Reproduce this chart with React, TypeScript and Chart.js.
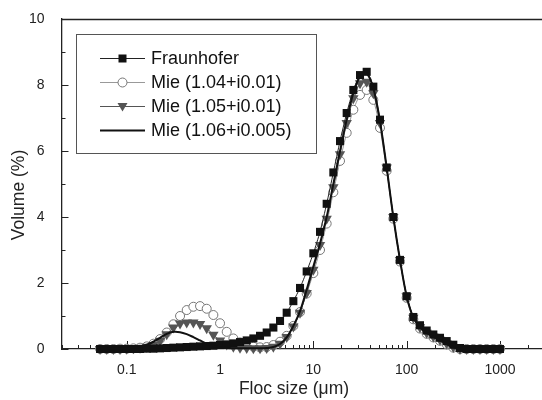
import React, { useEffect, useRef } from "react";
import { Chart, registerables } from "chart.js";
Chart.register(...registerables);

// Floc size classes (µm)
const sizes = [
  0.0518, 0.0611, 0.072, 0.0848, 0.1, 0.1179, 0.1389, 0.1638, 0.1931, 0.2276,
  0.2683, 0.3162, 0.3728, 0.4394, 0.5179, 0.6105, 0.7197, 0.8483, 1, 1.179,
  1.389, 1.638, 1.931, 2.276, 2.683, 3.162, 3.728, 4.394, 5.179, 6.105,
  7.197, 8.483, 10, 11.79, 13.89, 16.38, 19.31, 22.76, 26.83, 31.62,
  37.28, 43.94, 51.79, 61.05, 71.97, 84.83, 100, 117.9, 138.9, 163.8,
  193.1, 227.6, 268.3, 316.2, 372.8, 439.4, 517.9, 610.5, 719.7, 848.3,
  1000,
];

const fraunhofer = [
  0, 0, 0, 0, 0, 0, 0, 0.01, 0.01, 0.02,
  0.03, 0.04, 0.05, 0.06, 0.07, 0.08, 0.09, 0.1, 0.12, 0.14,
  0.17, 0.21, 0.26, 0.32, 0.4, 0.5, 0.65, 0.85, 1.1, 1.45,
  1.85, 2.35, 2.9, 3.55, 4.4, 5.35, 6.3, 7.15, 7.85, 8.3,
  8.4, 7.95, 6.95, 5.5, 4.0, 2.7, 1.6, 0.97, 0.72, 0.56,
  0.44, 0.34, 0.24, 0.13, 0.03, 0, 0, 0, 0, 0,
  0,
];

const mie104 = [
  0, 0, 0, 0.01, 0.01, 0.02, 0.04, 0.08, 0.16, 0.3,
  0.5, 0.75, 1.0, 1.18, 1.28, 1.3, 1.22, 1.03, 0.78, 0.52,
  0.32, 0.2, 0.12, 0.07, 0.05, 0.06, 0.12, 0.22, 0.4, 0.7,
  1.12, 1.68, 2.3, 3.0, 3.8, 4.75, 5.7, 6.55, 7.25, 7.7,
  7.85, 7.55, 6.7, 5.4, 3.95, 2.65, 1.55, 0.9, 0.62, 0.46,
  0.35, 0.25, 0.14, 0.04, 0, 0, 0, 0, 0, 0,
  0,
];

const mie105 = [
  0, 0, 0, 0, 0.01, 0.02, 0.04, 0.07, 0.12, 0.25,
  0.45, 0.65, 0.77, 0.8, 0.8, 0.76, 0.63, 0.43, 0.26, 0.14,
  0.07, 0.04, 0.03, 0.02, 0.02, 0.03, 0.07, 0.16, 0.36, 0.68,
  1.1, 1.7, 2.4, 3.15, 3.95, 4.9, 5.9, 6.85, 7.6, 8.05,
  8.1, 7.75, 6.85, 5.5, 4.0, 2.7, 1.6, 0.95, 0.66, 0.49,
  0.38, 0.28, 0.17, 0.06, 0, 0, 0, 0, 0, 0,
  0,
];

const mie106 = [
  0, 0, 0.01, 0.01, 0.02, 0.04, 0.07, 0.13, 0.22, 0.34,
  0.46, 0.52, 0.51, 0.45, 0.36, 0.26, 0.16, 0.09, 0.05, 0.03,
  0.02, 0.02, 0.02, 0.02, 0.02, 0.03, 0.06, 0.15, 0.35, 0.7,
  1.15, 1.8, 2.5, 3.2, 4.0, 5.0, 6.0, 6.95, 7.75, 8.25,
  8.35, 7.9, 6.9, 5.5, 4.0, 2.7, 1.6, 0.95, 0.66, 0.49,
  0.37, 0.26, 0.15, 0.05, 0, 0, 0, 0, 0, 0,
  0,
];

const seriesLabels = ["Fraunhofer", "Mie (1.04+i0.01)", "Mie (1.05+i0.01)", "Mie (1.06+i0.005)"];
const xTickValues = [0.1, 1, 10, 100, 1000];
const xTitle = "Floc size (μm)";
const yTitle = "Volume (%)";

const FONT = "'Liberation Sans', Arial, Helvetica, sans-serif";
const AXIS = "#222";

function toPoints(vals: number[]) {
  return sizes.map((s, i) => ({ x: s, y: vals[i] }));
}

function drawMarker(ctx: CanvasRenderingContext2D, kind: string, x: number, y: number) {
  ctx.save();
  if (kind === "square") {
    ctx.fillStyle = "#111";
    ctx.fillRect(x - 4, y - 4, 8, 8);
  } else if (kind === "circle") {
    ctx.fillStyle = "#fff";
    ctx.strokeStyle = "#777";
    ctx.lineWidth = 1;
    ctx.beginPath();
    ctx.arc(x, y, 4.5, 0, Math.PI * 2);
    ctx.fill();
    ctx.stroke();
  } else if (kind === "triangle") {
    ctx.fillStyle = "#555";
    ctx.beginPath();
    ctx.moveTo(x - 5, y - 3.5);
    ctx.lineTo(x + 5, y - 3.5);
    ctx.lineTo(x, y + 5);
    ctx.closePath();
    ctx.fill();
  }
  ctx.restore();
}

const decor = {
  id: "decor",
  beforeDatasetsDraw(chart: any) {
    const { ctx, chartArea: ca, scales } = chart;
    const xs = scales.x;
    const ys = scales.y;
    ctx.save();
    ctx.strokeStyle = AXIS;
    ctx.lineWidth = 1.3;
    ctx.beginPath();
    ctx.moveTo(ca.left, ca.top + 0.5);
    ctx.lineTo(ca.right, ca.top + 0.5);
    ctx.stroke();
    ctx.lineWidth = 1;
    ctx.beginPath();
    for (let e = -2; e <= 3; e++) {
      for (let m = 1; m <= 9; m++) {
        const v = m * Math.pow(10, e);
        if (v < xs.min || v > xs.max) continue;
        const px = Math.round(xs.getPixelForValue(v)) + 0.5;
        const len = m === 1 ? 8 : 4;
        ctx.moveTo(px, ca.bottom);
        ctx.lineTo(px, ca.bottom - len);
      }
    }
    for (let v = 0; v <= 10; v++) {
      const py = Math.round(ys.getPixelForValue(v)) + 0.5;
      const len = v % 2 === 0 ? 7 : 4;
      ctx.moveTo(ca.left, py);
      ctx.lineTo(ca.left + len, py);
    }
    ctx.stroke();
    ctx.restore();
  },
  afterDraw(chart: any) {
    const { ctx } = chart;
    ctx.save();
    // axis titles
    ctx.fillStyle = AXIS;
    ctx.font = `17.5px ${FONT}`;
    ctx.textAlign = "center";
    ctx.textBaseline = "middle";
    ctx.fillText(xTitle, 294, 389);
    ctx.save();
    ctx.translate(19, 195);
    ctx.rotate(-Math.PI / 2);
    ctx.fillText(yTitle, 0, 0);
    ctx.restore();

    // legend box
    const bx = 76, by = 34, bw = 240, bh = 119;
    ctx.fillStyle = "#fff";
    ctx.fillRect(bx, by, bw, bh);
    ctx.strokeStyle = "#555";
    ctx.lineWidth = 1;
    ctx.strokeRect(bx + 0.5, by + 0.5, bw, bh);

    const styles = [
      { color: "#222", width: 1, marker: "square" },
      { color: "#999", width: 1, marker: "circle" },
      { color: "#555", width: 1, marker: "triangle" },
      { color: "#111", width: 2, marker: "" },
    ];
    seriesLabels.forEach((lab, i) => {
      const cy = 58 + i * 24;
      const st = styles[i];
      ctx.strokeStyle = st.color;
      ctx.lineWidth = st.width;
      ctx.beginPath();
      ctx.moveTo(100, cy + 0.5);
      ctx.lineTo(145, cy + 0.5);
      ctx.stroke();
      if (st.marker) drawMarker(ctx, st.marker, 122.5, cy + 0.5);
      ctx.fillStyle = "#111";
      ctx.font = `18px ${FONT}`;
      ctx.textAlign = "left";
      ctx.textBaseline = "middle";
      ctx.fillText(lab, 151, cy + 1);
    });
    ctx.restore();
  },
};

export default function App() {
  const ref = useRef<HTMLCanvasElement | null>(null);
  useEffect(() => {
    if (!ref.current) return;
    const chart = new Chart(ref.current, {
      type: "line",
      data: {
        datasets: [
          {
            label: seriesLabels[3],
            data: toPoints(mie106),
            borderColor: "#111",
            borderWidth: 2,
            pointRadius: 0,
            tension: 0.35,
            order: 0,
          },
          {
            label: seriesLabels[0],
            data: toPoints(fraunhofer),
            borderColor: "#222",
            borderWidth: 1,
            pointStyle: "rect",
            pointRadius: 5.7,
            pointBackgroundColor: "#111",
            pointBorderColor: "#111",
            pointBorderWidth: 0,
            tension: 0.2,
            order: 1,
          },
          {
            label: seriesLabels[2],
            data: toPoints(mie105),
            borderColor: "#555",
            borderWidth: 1,
            pointStyle: "triangle",
            rotation: 180,
            pointRadius: 6,
            pointBackgroundColor: "#555",
            pointBorderColor: "#555",
            pointBorderWidth: 0,
            tension: 0.2,
            order: 2,
          },
          {
            label: seriesLabels[1],
            data: toPoints(mie104),
            borderColor: "#999",
            borderWidth: 1,
            pointStyle: "circle",
            pointRadius: 4.5,
            pointBackgroundColor: "#fff",
            pointBorderColor: "#777",
            pointBorderWidth: 1,
            tension: 0.2,
            order: 3,
          },
        ],
      },
      options: {
        responsive: false,
        animation: false,
        parsing: true,
        clip: false as any,
        layout: { padding: { left: 0, top: 19, right: 15.5, bottom: 0 } },
        plugins: { legend: { display: false }, tooltip: { enabled: false } },
        scales: {
          x: {
            type: "logarithmic",
            min: 0.02,
            max: 3000,
            grid: { display: false },
            border: { display: true, color: AXIS, width: 1.3 },
            afterBuildTicks: (s: any) => {
              s.ticks = xTickValues.map((v) => ({ value: v }));
            },
            afterFit: (s: any) => {
              s.height = 51;
            },
            ticks: {
              autoSkip: false,
              maxRotation: 0,
              padding: 5,
              color: AXIS,
              font: { family: FONT, size: 14 },
              callback: (v: any) => String(v),
            },
          },
          y: {
            min: 0,
            max: 10,
            grid: { display: false },
            border: { display: true, color: AXIS, width: 1.3 },
            afterFit: (s: any) => {
              s.width = 61.5;
            },
            ticks: {
              stepSize: 2,
              padding: 9,
              color: AXIS,
              font: { family: FONT, size: 14 },
            },
          },
        },
      },
      plugins: [decor],
    });
    return () => chart.destroy();
  }, []);
  return (
    <div style={{ position: "fixed", left: 0, top: 0, width: 542, height: 400, overflow: "hidden", background: "#fff" }}>
      <canvas ref={ref} width={560} height={400} style={{ display: "block" }} />
    </div>
  );
}
